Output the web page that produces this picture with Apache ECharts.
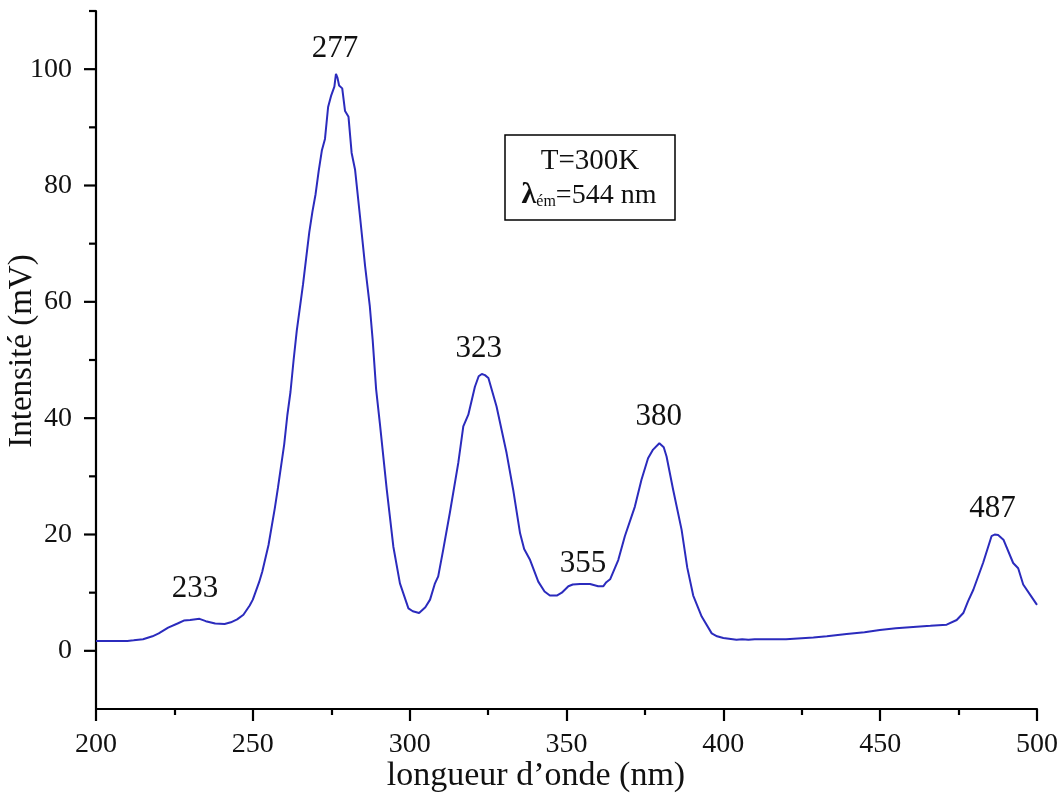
<!DOCTYPE html>
<html>
<head>
<meta charset="utf-8">
<script src="https://cdn.jsdelivr.net/npm/echarts@6/dist/echarts.min.js"></script>
<style>
html,body{margin:0;padding:0;background:#fff;}
#chart{width:1061px;height:798px;}
</style>
</head>
<body>
<div id="chart"></div>
<script>
// wavelength (nm)
const wavelengths = [200,205,210,212,215,218,220,223,226,228,230,233,235,238,241,243,245,247,249,250,
252,253,255,257,258,260,261,262,263,264,266,267,268,269,270,271,272,273,274,275,276,276.5,277,277.5,
278.5,279.4,280.5,281.5,282.6,284.2,285.8,287.3,288.2,289.3,290.5,292.7,294.8,296.9,299.6,301,303,305,
306.5,308,309.1,310.7,312.8,315.5,317.1,318.7,320.8,322,323,324,325.1,327.7,330.9,333,335.2,336.5,338.4,
341,343,344.7,346.9,348.5,350.6,352,354.3,357.5,360.1,361.7,362.7,363.9,366.5,368.6,371.8,373.9,376,
377.6,379.6,381,381.9,384,386.7,388.5,390.4,393.1,396.3,398,400,404.2,406,408,410,412.7,420,428.7,433,
439.3,445,449.9,455,460.5,466,471.2,474.4,476.5,478,479.7,482.8,485.5,486.5,487.6,489.3,492.4,494,495.6,
498,500];
// intensity (mV)
const intensities = [1.7,1.7,1.7,1.8,2.0,2.5,3.0,4.0,4.7,5.2,5.3,5.5,5.1,4.7,4.6,4.9,5.4,6.2,7.8,8.8,
11.8,13.6,18.2,24.5,28.0,35.5,40.5,44.5,50.0,55.0,63.0,67.5,72.0,75.5,78.5,82.5,86.0,88.0,93.5,95.5,97.0,99.2,98.5,97.2,
96.7,92.8,91.8,85.6,82.7,74.5,66.1,59.2,53.5,45.0,39.1,27.7,17.9,11.6,7.3,6.8,6.5,7.5,
8.8,11.5,12.8,17.4,23.7,32.3,38.6,40.6,45.4,47.2,47.6,47.4,46.9,42.0,34.0,27.7,20.2,17.5,15.6,
11.9,10.2,9.5,9.5,10.0,11.1,11.4,11.5,11.5,11.1,11.1,11.8,12.3,15.6,19.7,24.8,29.4,33.1,
34.6,35.7,35.0,33.4,27.7,20.8,14.3,9.5,5.9,3.0,2.5,2.2,1.9,2.0,1.9,2.0,2.0,2.0,2.3,2.5,
2.9,3.2,3.6,3.9,4.1,4.3,4.5,5.3,6.5,8.5,10.5,15.1,19.7,20.0,19.9,19.1,15.1,14.2,11.4,
9.5,7.9];
// peak annotations
const peakLabels = ['233','277','323','355','380','487'];
const peakLabelX = [231.6,276.2,322.0,355.3,379.4,485.8];
const peakLabelY = [10.6,103.5,51.9,15.0,40.2,24.4];
// y axis ticks
const yMajorTicks = [0,20,40,60,80,100];
const yMinorTicks = [10,30,50,70,90,110];
// info box text
const infoLine1 = 'T=300K';
const infoLambda = 'λ';
const infoSub = 'ém';
const infoRest = '=544 nm';

const FONT = '"Liberation Serif", "DejaVu Serif", serif';
const chart = echarts.init(document.getElementById('chart'));

const lineData = wavelengths.map((w, i) => [w, intensities[i]]);
const tickData = yMajorTicks.map(v => [200, v, 12]).concat(yMinorTicks.map(v => [200, v, 7]));

chart.setOption({
  animation: false,
  backgroundColor: '#ffffff',
  grid: { left: 96, right: 24, top: 11, bottom: 89, containLabel: false },
  xAxis: {
    type: 'value', min: 200, max: 500, interval: 50,
    axisLine: { show: true, onZero: false, lineStyle: { color: '#000', width: 2.2 } },
    axisTick: { show: true, inside: false, length: 12, lineStyle: { color: '#000', width: 2.2 } },
    minorTick: { show: true, splitNumber: 2, length: 6, lineStyle: { color: '#000', width: 2.2 } },
    axisLabel: { margin: 22, fontFamily: FONT, fontSize: 28, color: '#111' },
    splitLine: { show: false }
  },
  yAxis: {
    type: 'value', min: -10, max: 110, interval: 10,
    axisLine: { show: true, onZero: false, lineStyle: { color: '#000', width: 2.2 } },
    axisTick: { show: false },
    axisLabel: {
      margin: 24, fontFamily: FONT, fontSize: 28, color: '#111',
      formatter: v => (yMajorTicks.indexOf(v) >= 0 ? String(v) : '')
    },
    splitLine: { show: false }
  },
  series: [
    {
      type: 'line', data: lineData, showSymbol: false, smooth: false,
      lineStyle: { color: '#2b2bbd', width: 2 },
      markPoint: {
        symbol: 'circle', symbolSize: 1,
        itemStyle: { color: 'rgba(0,0,0,0)' },
        label: { show: true, position: 'inside', fontFamily: FONT, fontSize: 31, color: '#111', formatter: p => p.name },
        data: peakLabels.map((t, i) => ({ name: t, coord: [peakLabelX[i], peakLabelY[i]] }))
      }
    },
    {
      type: 'custom', data: tickData, clip: false, silent: true,
      renderItem: function (params, api) {
        const p = api.coord([api.value(0), api.value(1)]);
        const len = api.value(2);
        return {
          type: 'line',
          shape: { x1: p[0] - len, y1: p[1], x2: p[0], y2: p[1] },
          style: { stroke: '#000', lineWidth: 2.2 }
        };
      }
    }
  ],
  graphic: [
    { type: 'text', x: 536, y: 776,
      style: { text: 'longueur d’onde (nm)', font: '34px ' + FONT, fill: '#111', textAlign: 'center', textVerticalAlign: 'middle' } },
    { type: 'text', x: 22, y: 351, rotation: Math.PI / 2,
      style: { text: 'Intensité (mV)', font: '33px ' + FONT, fill: '#111', textAlign: 'center', textVerticalAlign: 'middle' } },
    { type: 'rect', shape: { x: 505, y: 135, width: 170, height: 85 },
      style: { fill: '#fff', stroke: '#000', lineWidth: 1.5 } },
    { type: 'text', x: 590, y: 161,
      style: { text: infoLine1, font: '29px ' + FONT, fill: '#111', textAlign: 'center', textVerticalAlign: 'middle' } },
    { type: 'text', x: 589, y: 194,
      style: {
        text: '{a|' + infoLambda + '}{b|' + infoSub + '}{c|' + infoRest + '}',
        textAlign: 'center', textVerticalAlign: 'middle',
        rich: {
          a: { fontFamily: FONT, fontSize: 30, fontWeight: 'bold', fill: '#111', verticalAlign: 'bottom', lineHeight: 32 },
          b: { fontFamily: FONT, fontSize: 16, fill: '#111', verticalAlign: 'bottom', lineHeight: 23 },
          c: { fontFamily: FONT, fontSize: 28, fill: '#111', verticalAlign: 'bottom', lineHeight: 32 }
        }
      } }
  ]
});
</script>
</body>
</html>
